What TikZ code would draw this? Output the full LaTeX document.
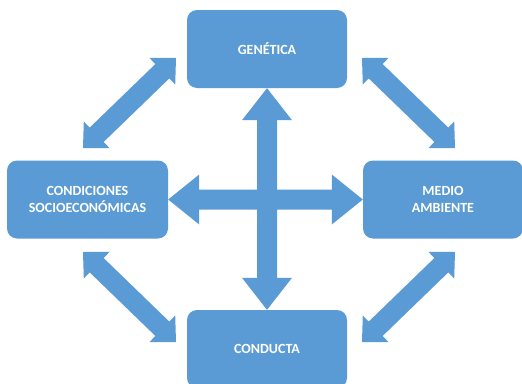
\documentclass[tikz,border=0pt]{standalone}
\usepackage{fontspec}
\setmainfont{Carlito}
\usetikzlibrary{calc}
\definecolor{offblue}{RGB}{91,155,213}
\newcommand\dblarr[5]{% A, B, shaft half width, head half width, head length
  \fill[offblue] (#1)
    -- ($(#1)!#5!(#2)!#4!90:(#2)$)
    -- ($(#1)!#5!(#2)!#3!90:(#2)$)
    -- ($(#2)!#5!(#1)!#3!-90:(#1)$)
    -- ($(#2)!#5!(#1)!#4!-90:(#1)$)
    -- (#2)
    -- ($(#2)!#5!(#1)!#4!90:(#1)$)
    -- ($(#2)!#5!(#1)!#3!90:(#1)$)
    -- ($(#1)!#5!(#2)!#3!-90:(#2)$)
    -- ($(#1)!#5!(#2)!#4!-90:(#2)$)
    -- cycle;}
\begin{document}
\begin{tikzpicture}[x=1pt,y=-1pt,
  box/.style={fill=offblue, rounded corners=10pt, minimum width=160pt, minimum height=78pt,
    text=white, align=center, font=\bfseries\fontsize{14}{17}\selectfont, inner sep=0pt}]
\clip (0,0) rectangle (522,383);
\fill[white] (0,0) rectangle (522,383);
\node[box] (gen) at (267,49) {GENÉTICA};
\node[box] (cond) at (267,349) {CONDUCTA};
\node[box, minimum width=161pt] (soc) at (87.5,199.5) {CONDICIONES\\SOCIOECONÓMICAS};
\node[box] (med) at (443,199.5) {MEDIO\\AMBIENTE};
\coordinate (ul1) at (176,58);
\coordinate (ul2) at (83,148);
\coordinate (ur1) at (362,58);
\coordinate (ur2) at (455,148);
\coordinate (ll1) at (83,252);
\coordinate (ll2) at (176,342);
\coordinate (lr1) at (455,252);
\coordinate (lr2) at (362,342);
\dblarr{gen.south}{cond.north}{10pt}{25pt}{32pt}
\dblarr{soc.east}{med.west}{10pt}{25pt}{31pt}
\dblarr{ul1}{ul2}{10pt}{18.5pt}{19pt}
\dblarr{ur1}{ur2}{10pt}{18.5pt}{19pt}
\dblarr{ll1}{ll2}{10pt}{18.5pt}{19pt}
\dblarr{lr1}{lr2}{10pt}{18.5pt}{19pt}
\end{tikzpicture}
\end{document}
